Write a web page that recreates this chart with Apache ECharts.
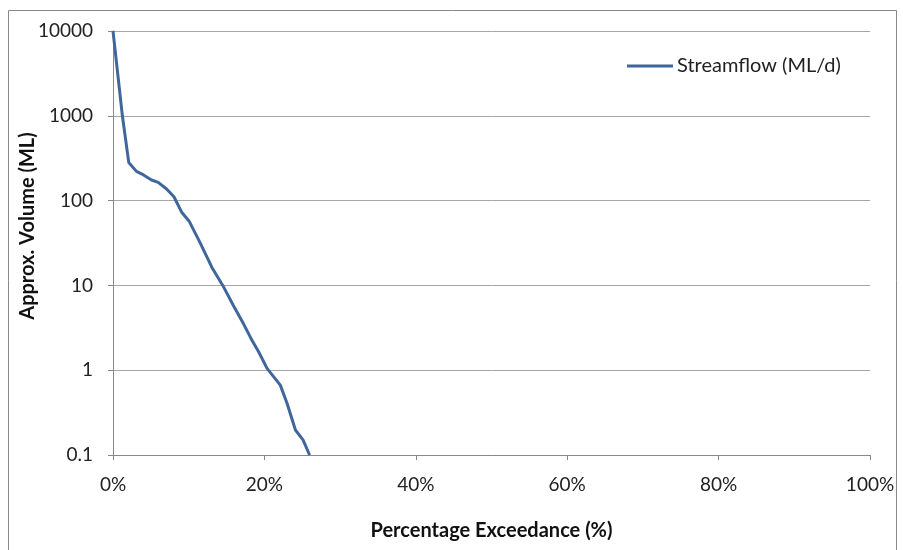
<!DOCTYPE html>
<html><head><meta charset="utf-8">
<script src="https://cdn.jsdelivr.net/npm/echarts@6/dist/echarts.min.js"></script>
<style>html,body{margin:0;padding:0;background:#fff}#c{width:903px;height:550px}</style>
</head><body><div id="c"></div>
<script>
const exceedance = [0, 1.24, 2.08, 3.1, 3.98, 5.09, 5.97, 7.08, 8.05, 9.07, 10.09, 11.5, 13.05, 14.5, 15.9, 17.26, 18.36, 19.25, 20.35, 22.1, 23.0, 24.1, 25.1, 25.97];
const streamflow = [10000, 1000, 282, 221, 202, 175, 164, 137, 111, 73, 56.6, 32, 16.4, 10, 5.8, 3.5, 2.25, 1.64, 1.05, 0.667, 0.405, 0.197, 0.151, 0.1];
const xTicks = [0, 20, 40, 60, 80, 100];
const seriesName = 'Streamflow (ML/d)';
const yTitle = 'Approx. Volume (ML)';

const chart = echarts.init(document.getElementById('c'), null, {renderer: 'canvas'});
const font = 'Lato, "Open Sans", sans-serif';
chart.setOption({
  animation: false,
  textStyle: {fontFamily: font},
  graphic: [
    {type: 'rect', shape: {x: 8.5, y: 10.5, width: 888, height: 560}, style: {fill: 'none', stroke: '#888', lineWidth: 1}, silent: true},
    {type: 'text', x: 28, y: 226, rotation: Math.PI / 2, silent: true,
     style: {text: yTitle, fontSize: 20, fontWeight: 'bold', fill: '#111', fontFamily: font, align: 'center', verticalAlign: 'middle'}}
  ],
  grid: {left: 113, right: 33, top: 31, bottom: 95},
  legend: {
    left: 622, top: 51, itemWidth: 46, itemHeight: 3, itemGap: 5,
    icon: 'rect',
    textStyle: {fontSize: 20, color: '#222', fontFamily: font, padding: [0, 0, 0, -1]},
    data: [{name: seriesName}]
  },
  xAxis: {
    type: 'value', min: xTicks[0], max: xTicks[xTicks.length - 1], interval: 20,
    axisLine: {show: true, lineStyle: {color: '#888'}},
    axisTick: {show: true, length: 5, lineStyle: {color: '#888'}},
    splitLine: {show: false},
    axisLabel: {formatter: '{value}%', fontSize: 19, color: '#222', margin: 20, fontFamily: font},
    name: 'Percentage Exceedance (%)', nameLocation: 'middle', nameGap: 66,
    nameTextStyle: {fontSize: 20, fontWeight: 'bold', color: '#111', fontFamily: font}
  },
  yAxis: {
    type: 'log', logBase: 10, min: 0.1, max: 10000,
    axisLine: {show: true, lineStyle: {color: '#888'}},
    axisTick: {show: true, length: 5, inside: false, lineStyle: {color: '#888'}},
    splitLine: {show: true, lineStyle: {color: '#a6a6a6', width: 1}},
    axisLabel: {fontSize: 19, color: '#222', margin: 20, fontFamily: font,
      formatter: v => (v < 1 ? String(v) : String(Math.round(v)))}
  },
  series: [{
    name: seriesName, type: 'line', showSymbol: false, symbol: 'none',
    lineStyle: {color: '#3f679c', width: 3}, itemStyle: {color: '#3f679c'},
    data: exceedance.map((x, i) => [x, streamflow[i]])
  }]
});
</script></body></html>
